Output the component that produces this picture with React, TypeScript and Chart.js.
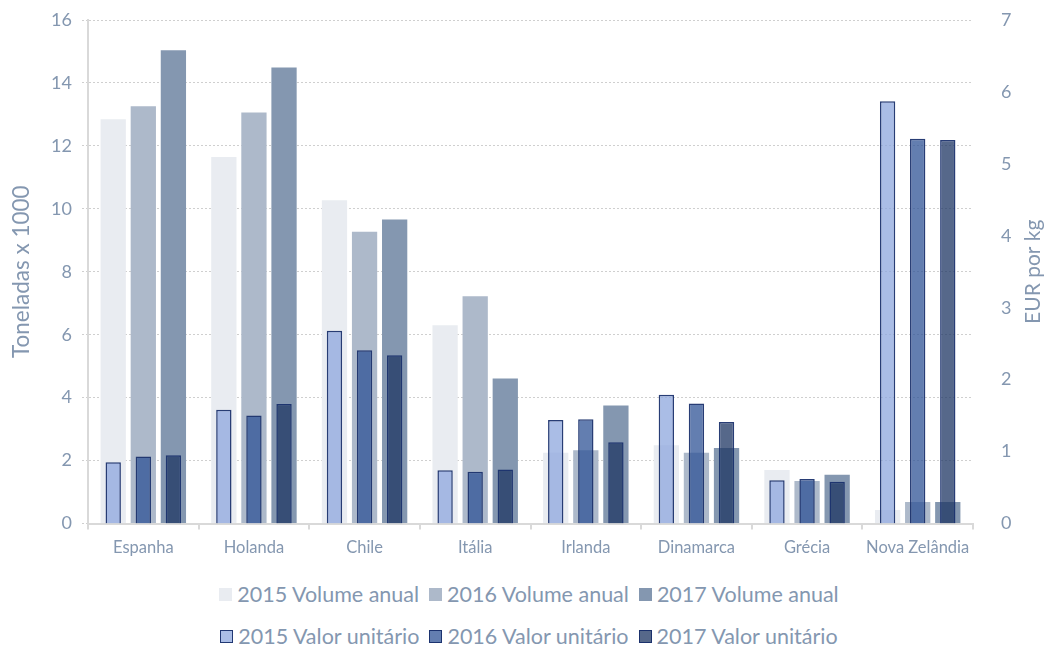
import React, { useEffect, useRef } from "react";
import { Chart, registerables } from "chart.js";

Chart.register(...registerables);

const categories = ["Espanha", "Holanda", "Chile", "Itália", "Irlanda", "Dinamarca", "Grécia", "Nova Zelândia"];
const volume2015 = [12.85, 11.65, 10.27, 6.3, 2.25, 2.49, 1.7, 0.43];
const volume2016 = [13.26, 13.06, 9.27, 7.22, 2.33, 2.25, 1.35, 0.68];
const volume2017 = [15.04, 14.49, 9.66, 4.61, 3.75, 2.4, 1.55, 0.68];
const valor2015 = [0.85, 1.58, 2.68, 0.74, 1.44, 1.79, 0.6, 5.87];
const valor2016 = [0.93, 1.5, 2.41, 0.72, 1.45, 1.67, 0.62, 5.35];
const valor2017 = [0.95, 1.66, 2.34, 0.75, 1.13, 1.41, 0.58, 5.33];
const leftTitle = "Toneladas x 1000";
const rightTitle = "EUR por kg";

const FONT = "Lato, 'Noto Sans', sans-serif";
const TEXT = "#8497b0";
const BORDER = "rgba(22,45,105,0.92)";

const volColors = ["#e9ecf1", "#adb9ca", "#8497b0"];
const valColors = ["rgba(141,167,221,0.75)", "rgba(47,83,150,0.75)", "rgba(29,53,99,0.75)"];
const legendVol = ["2015 Volume anual", "2016 Volume anual", "2017 Volume anual"];
const legendVal = ["2015 Valor unitário", "2016 Valor unitário", "2017 Valor unitário"];

const rightTitlePlugin = {
  id: "rightTitle",
  afterDraw(chart: any) {
    const { ctx, chartArea } = chart;
    ctx.save();
    ctx.translate(1033, (chartArea.top + chartArea.bottom) / 2);
    ctx.rotate(-Math.PI / 2);
    ctx.font = `21px ${FONT}`;
    ctx.fillStyle = TEXT;
    ctx.textAlign = "center";
    ctx.textBaseline = "middle";
    ctx.fillText(rightTitle, 0, 0);
    ctx.restore();
  },
};

export default function App() {
  const ref = useRef<HTMLCanvasElement>(null);

  useEffect(() => {
    if (!ref.current) return;
    const vols = [volume2015, volume2016, volume2017];
    const vals = [valor2015, valor2016, valor2017];
    const datasets: any[] = [];
    vols.forEach((d, i) =>
      datasets.push({
        label: legendVol[i],
        data: d,
        backgroundColor: volColors[i],
        borderWidth: 0,
        yAxisID: "y",
        stack: "s" + i,
        barPercentage: 0.84,
        categoryPercentage: 0.816,
        order: 2,
      })
    );
    vals.forEach((d, i) =>
      datasets.push({
        label: legendVal[i],
        data: d,
        backgroundColor: valColors[i],
        borderColor: BORDER,
        borderWidth: 1.5,
        yAxisID: "y2",
        stack: "s" + i,
        barPercentage: 0.51,
        categoryPercentage: 0.816,
        order: 1,
      })
    );

    const chart = new Chart(ref.current, {
      type: "bar",
      data: { labels: categories, datasets },
      options: {
        animation: false,
        responsive: false,
        devicePixelRatio: 1,
        layout: { padding: { top: 20, left: 0, right: 0, bottom: 0 } },
        plugins: { legend: { display: false }, tooltip: { enabled: false } },
        scales: {
          x: {
            type: "category",
            offset: true,
            grid: { offset: true, drawOnChartArea: false, drawTicks: true, tickLength: 6, color: "#d9d9d9", lineWidth: 2 },
            border: { color: "#d9d9d9", width: 2 },
            ticks: { color: TEXT, font: { family: FONT, size: 16.5 }, padding: 8, maxRotation: 0 },
            afterFit: (s: any) => { s.height = 41.5; s.paddingLeft = 0; s.paddingRight = 0; },
          },
          y: {
            position: "left",
            stacked: false,
            min: 0,
            max: 16,
            ticks: { stepSize: 2, color: TEXT, font: { family: FONT, size: 18 }, padding: 10 },
            grid: { color: "#cfcfcf", lineWidth: 1, tickLength: 6, tickColor: "#cfcfcf", tickBorderDash: [2, 2] },
            border: { color: "#d9d9d9", width: 2, dash: [2, 2] },
            title: { display: true, text: leftTitle, color: TEXT, font: { family: FONT, size: 22.5 }, padding: { top: 8, bottom: 0 } },
            afterFit: (s: any) => { s.width = 88; s.paddingTop = 0; s.paddingBottom = 0; },
          },
          y2: {
            position: "right",
            stacked: false,
            min: 0,
            max: 7,
            ticks: { stepSize: 1, color: TEXT, font: { family: FONT, size: 18 }, padding: 20 },
            grid: { display: false, drawOnChartArea: false },
            border: { display: false },
            afterFit: (s: any) => { s.width = 75; s.paddingTop = 0; s.paddingBottom = 0; },
          },
        },
      } as any,
      plugins: [rightTitlePlugin],
    });
    return () => chart.destroy();
  }, []);

  const row = (labels: string[], colors: string[], bordered: boolean, top: number) => (
    <div
      style={{
        position: "absolute",
        top,
        left: 0,
        width: 1058,
        display: "flex",
        justifyContent: "center",
        gap: 10,
        fontFamily: FONT,
        fontSize: 21.5,
        color: TEXT,
        lineHeight: "26px",
      }}
    >
      {labels.map((l, i) => (
        <div key={l} style={{ display: "flex", alignItems: "center", gap: 5 }}>
          <span
            style={{
              display: "inline-block",
              width: 13,
              height: 13,
              boxSizing: "border-box",
              background: colors[i],
              border: bordered ? `1.5px solid ${BORDER}` : "none",
            }}
          />
          <span>{l}</span>
        </div>
      ))}
    </div>
  );

  return (
    <div style={{ position: "absolute", left: 0, top: 0, width: 1048, height: 652, background: "#fff" }}>
      <canvas ref={ref} width={1048} height={565} style={{ display: "block" }} />
      {row(legendVol, volColors, false, 581)}
      {row(legendVal, valColors, true, 623)}
    </div>
  );
}
